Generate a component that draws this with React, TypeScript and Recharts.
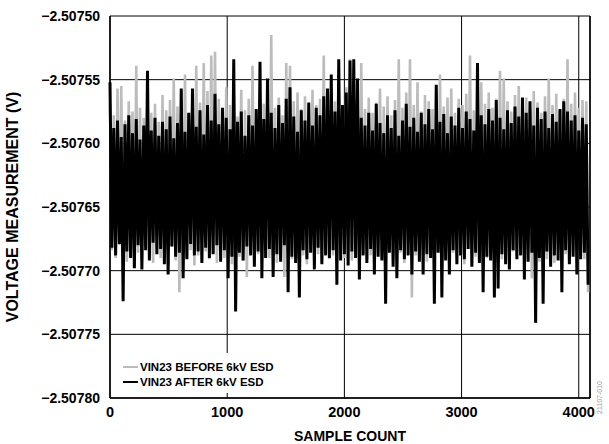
import React from 'react';
import {
  LineChart, Line, XAxis, YAxis, CartesianGrid, Legend, ReferenceLine, Label,
} from 'recharts';

// readings are stored as microvolt offsets from BASE_V, one every SAMPLE_STEP samples
const BASE_V = -2.5076;
const SAMPLE_STEP = 16;

const beforeUv = [
  30, -84, 22, -90, 43, -80, 45, -88, 18, -93, 33, -82, 25, -96, 61, -86,
  28, -91, 20, -79, 36, -89, 24, -94, 31, -83, 17, -90, 38, -87, 26, -95,
  34, -81, 51, -92, 29, -117, 40, -86, 54, -90, 23, -84, 37, -96, 61, -88,
  32, -93, 63, -85, 41, -91, 69, -87, 72, -94, 35, -82, 27, -90, 44, -86,
  30, -95, 38, -83, 21, -89, 42, -92, 26, -105, 35, -84, 61, -91, 24, -87,
  39, -93, 31, -85, 45, -90, 85, -88, 28, -94, 36, -82, 22, -105, 63, -86,
  61, -91, 33, -84, 40, -92, 27, -88, 37, -95, 24, -83, 42, -90, 30, -87,
  35, -93, 69, -85, 28, -91, 41, -88, 33, -94, 38, -82, 26, -90, 44, -87,
  66, -92, 31, -86, 39, -95, 63, -84, 27, -91, 36, -88, 24, -93, 32, -85,
  43, -90, 29, -96, 37, -83, 22, -89, 34, -92, 66, -86, 28, -94, 40, -87,
  66, -121, 30, -88, 48, -91, 25, -85, 38, -93, 33, -89, 27, -96, 41, -84,
  54, -90, 29, -87, 36, -93, 43, -86, 24, -91, 35, -88, 30, -95, 39, -83,
  69, -94, 26, -89, 37, -92, 48, -85, 31, -90, 40, -87, 28, -93, 35, -86,
  57, -91, 51, -88, 33, -94, 25, -85, 38, -90, 45, -87, 29, -92, 36, -84,
  27, -106, 41, -89, 32, -93, 24, -86, 37, -91, 51, -88, 30, -94, 39, -85,
  26, -90, 35, -87, 66, -92, 31, -86, 40, -93, 28, -89, 34, -91, 33, -117,
];

const afterUv = [
  48, -82, 12, -88, 18, -79, 5, -124, 15, -85, 22, -90, 8, -98, 19, -80,
  3, -99, 14, -84, 57, -92, 10, -78, 20, -87, 6, -83, 17, -95, 11, -103,
  21, -81, 4, -89, 16, -86, 43, -106, 9, -91, 24, -79, 43, -88, 13, -85,
  26, -94, 7, -82, 30, -90, 18, -87, 39, -80, 15, -93, 28, -84, 20, -106,
  11, -89, 66, -132, 17, -86, 25, -92, 6, -81, 22, -88, 14, -97, 27, -85,
  64, -106, 19, -90, 51, -83, 24, -105, 12, -87, 30, -93, 16, -80, 35, -117,
  44, -89, 21, -94, 9, -121, 26, -84, 18, -91, 32, -86, 14, -99, 28, -82,
  22, -95, 37, -88, 43, -90, 54, -84, 25, -111, 66, -92, 30, -87, 40, -96,
  65, -85, 66, -90, 51, -107, 20, -88, 14, -94, 24, -83, 10, -103, 31, -89,
  16, -92, 8, -126, 22, -86, 12, -97, 26, -106, 6, -84, 18, -91, 31, -88,
  13, -103, 20, -85, 9, -93, 24, -103, 15, -87, 27, -90, 11, -126, 46, -86,
  17, -121, 23, -92, 8, -103, 21, -84, 14, -95, 28, -88, 12, -91, 25, -83,
  19, -97, 10, -86, 63, -94, 22, -117, 15, -89, 27, -92, 18, -121, 34, -114,
  20, -87, 11, -95, 26, -99, 16, -84, 29, -91, 21, -88, 36, -107, 24, -93,
  33, -86, 14, -141, 28, -90, 19, -126, 25, -85, 12, -97, 23, -88, 17, -92,
  27, -117, 33, -84, 25, -95, 18, -89, 22, -103, 10, -91, 20, -86, 15, -111,
];

const xTicks = [0, 1000, 2000, 3000, 4000];
const yTicks = [-2.5078, -2.50775, -2.5077, -2.50765, -2.5076, -2.50755, -2.5075];

const seriesNames = {
  before: 'VIN23 BEFORE 6kV ESD',
  after: 'VIN23 AFTER 6kV ESD',
};

const data = beforeUv.map((b, i) => ({
  sample: i * SAMPLE_STEP,
  before: BASE_V + b * 1e-6,
  after: BASE_V + afterUv[i] * 1e-6,
}));

const FONT = '"Liberation Sans", Arial, sans-serif';
const GRAY = '#bcbcbc';

const fmtVolt = (v: number) => v.toFixed(5).replace('-', '\u2212');

function LegendBox() {
  const rows = [
    { name: seriesNames.before, color: GRAY },
    { name: seriesNames.after, color: '#000' },
  ];
  return (
    <div style={{ background: '#fff', width: '100%', height: '100%', paddingTop: 6, boxSizing: 'border-box' }}>
      {rows.map((r) => (
        <div key={r.name} style={{ display: 'flex', alignItems: 'center', height: 15, paddingLeft: 12 }}>
          <span style={{ display: 'inline-block', width: 15, height: 2, background: r.color, marginRight: 2 }} />
          <span style={{ fontFamily: FONT, fontWeight: 'bold', fontSize: 11.5, color: '#000', whiteSpace: 'nowrap' }}>
            {r.name}
          </span>
        </div>
      ))}
    </div>
  );
}

export default function App() {
  return (
    <div style={{ position: 'absolute', left: 0, top: 0, width: 609, height: 444, background: '#fff' }}>
      <LineChart width={609} height={444} data={data} margin={{ top: 16, right: 19, bottom: 0, left: 0 }}>
        <CartesianGrid stroke="#000" strokeWidth={1} />
        <XAxis
          dataKey="sample"
          type="number"
          domain={[0, 4096]}
          ticks={xTicks}
          height={46}
          tickSize={0}
          tickMargin={9}
          tickLine={false}
          axisLine={{ stroke: '#000', strokeWidth: 1.5 }}
          tick={{ fontFamily: FONT, fontWeight: 'bold', fontSize: 14.5, fill: '#000' }}
        >
          <Label
            value="SAMPLE COUNT"
            position="insideBottom"
            offset={3}
            style={{ fontFamily: FONT, fontWeight: 'bold', fontSize: 14, fill: '#000' }}
          />
        </XAxis>
        <YAxis
          type="number"
          domain={[-2.5078, -2.5075]}
          ticks={yTicks}
          allowDataOverflow
          width={110}
          tickSize={0}
          tickMargin={10}
          tickLine={false}
          tickFormatter={fmtVolt}
          axisLine={{ stroke: '#000', strokeWidth: 1.5 }}
          tick={{ fontFamily: FONT, fontWeight: 'bold', fontSize: 14, fill: '#000' }}
        >
          <Label
            value="VOLTAGE MEASUREMENT (V)"
            angle={-90}
            position="insideLeft"
            offset={12}
            style={{ fontFamily: FONT, fontWeight: 'bold', fontSize: 16, fill: '#000', textAnchor: 'middle' }}
          />
        </YAxis>
        <ReferenceLine x={4096} stroke="#000" strokeWidth={1.5} />
        <Line
          type="linear"
          dataKey="before"
          name={seriesNames.before}
          stroke={GRAY}
          strokeWidth={2.6}
          dot={false}
          isAnimationActive={false}
        />
        <Line
          type="linear"
          dataKey="after"
          name={seriesNames.after}
          stroke="#000"
          strokeWidth={3}
          dot={false}
          isAnimationActive={false}
        />
        <Legend
          layout="horizontal"
          verticalAlign="middle"
          align="center"
          content={() => <LegendBox />}
          wrapperStyle={{ left: 111, top: 353, width: 229, height: 40 }}
        />
      </LineChart>
      <div
        style={{
          position: 'absolute', left: 596, top: 414, fontFamily: FONT, fontSize: 7, color: '#999',
          transform: 'rotate(-90deg)', transformOrigin: 'left top', whiteSpace: 'nowrap',
        }}
      >
        21107-010
      </div>
    </div>
  );
}
